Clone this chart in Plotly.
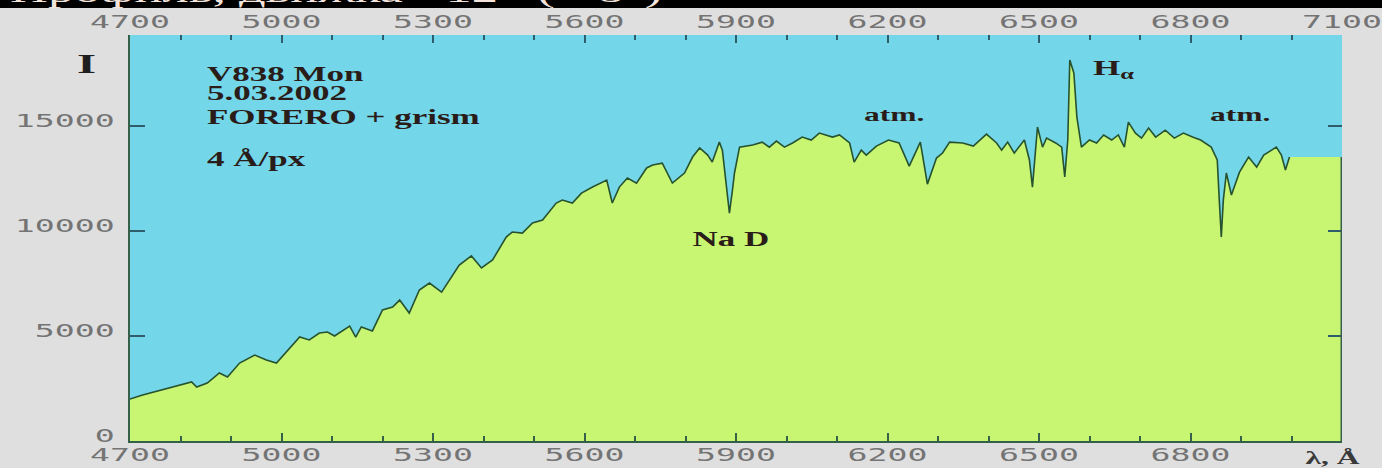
import plotly.graph_objects as go

# ---------------------------------------------------------------------------
# V838 Mon spectrum, 5.03.2002 (FORERO + grism, 4 A/px)
# ---------------------------------------------------------------------------
wavelength = [
    4700, 4725, 4822, 4832, 4853, 4877, 4893, 4917, 4947, 4970,
    4990, 5010, 5036, 5055, 5075, 5091, 5105, 5135, 5147, 5158,
    5180, 5200, 5220, 5234, 5253, 5273, 5293, 5317, 5352, 5376,
    5396, 5418, 5445, 5457, 5477, 5497, 5517, 5544, 5556, 5576,
    5594, 5616, 5644, 5655, 5669, 5685, 5703, 5723, 5735, 5754,
    5774, 5798, 5814, 5828, 5844, 5853, 5867, 5873, 5881, 5887,
    5893, 5897, 5907, 5933, 5952, 5966, 5980, 5996, 6012, 6031,
    6049, 6065, 6091, 6105, 6125, 6134, 6148, 6158, 6178, 6202,
    6223, 6243, 6265, 6279, 6297, 6309, 6323, 6349, 6370, 6396,
    6416, 6426, 6438, 6451, 6471, 6481, 6487, 6493, 6497, 6507,
    6515, 6533, 6545, 6551, 6557, 6561, 6569, 6575, 6584, 6600,
    6614, 6628, 6644, 6657, 6669, 6677, 6691, 6703, 6717, 6731,
    6750, 6768, 6786, 6804, 6820, 6841, 6853, 6857, 6861, 6865,
    6871, 6881, 6897, 6915, 6931, 6945, 6970, 6980, 6988, 6996,
]
flux = [
    2000, 2190, 2810, 2570, 2760, 3240, 3050, 3710, 4090, 3860,
    3710, 4240, 4950, 4810, 5140, 5190, 5000, 5470, 4950, 5430,
    5240, 6240, 6380, 6710, 6090, 7190, 7520, 7090, 8380, 8810,
    8240, 8620, 9710, 9950, 9900, 10380, 10520, 11330, 11470, 11330,
    11800, 12090, 12420, 11330, 12090, 12520, 12280, 13000, 13140, 13230,
    12280, 12760, 13520, 13950, 13610, 13280, 14230, 13850, 12190, 10850,
    11950, 12760, 13990, 14090, 14230, 13990, 14280, 13990, 14190, 14470,
    14330, 14660, 14470, 14570, 14190, 13280, 13850, 13610, 14040, 14330,
    14190, 13090, 14230, 12230, 13470, 13710, 14230, 14190, 14040, 14610,
    14190, 13850, 14230, 13710, 14330, 13380, 12090, 13850, 14950, 13990,
    14420, 14190, 13990, 12570, 14330, 18140, 17520, 15420, 13990, 14330,
    14190, 14570, 14330, 14570, 13990, 15180, 14660, 14420, 14900, 14470,
    14800, 14420, 14660, 14470, 14330, 13990, 13380, 11470, 9710, 11470,
    12760, 11710, 12800, 13520, 13040, 13610, 13990, 13610, 12900, 13520,
]
assert len(wavelength) == len(flux)

LAMBDA_MIN, LAMBDA_MAX = 4700, 7100
FLUX_MAX = 19330

x_tick_vals = [4700, 5000, 5300, 5600, 5900, 6200, 6500, 6800, 7100]
x_tick_text = ["4700", "5000", "5300", "5600", "5900", "6200", "6500", "6800", "7100"]
x_minor_vals = list(range(LAMBDA_MIN, LAMBDA_MAX, 100))
y_tick_vals = [0, 5000, 10000, 15000]
y_tick_text = ["0", "5000", "10000", "15000"]

# ---------------------------------------------------------------------------
PAPER = "#dfdfdf"
SKY = "#73d6e9"
FILL = "#c8f672"
LINE = "#27522f"
AXIS = "#35604a"
TOP_TICK = "#2f5d6c"
LABEL_GREY = "#747474"
INK = "#2a1c18"

tick_font = dict(family="DejaVu Sans Mono", size=17, color=LABEL_GREY)
note_font = dict(family="Liberation Serif", size=20, color=INK, weight="bold")

fig = go.Figure()

# filled area under the spectrum, continued flat to the end of the axis
fig.add_trace(go.Scatter(
    x=wavelength + [LAMBDA_MAX], y=flux + [flux[-1]],
    mode="lines", line=dict(width=0), fill="tozeroy", fillcolor=FILL,
    hoverinfo="skip", xaxis="x", yaxis="y",
))
# spectrum outline
fig.add_trace(go.Scatter(
    x=wavelength, y=flux, mode="lines",
    line=dict(color=LINE, width=1.6),
    xaxis="x2", yaxis="y2",
))

fig.add_shape(type="line", xref="x", yref="y",
              x0=LAMBDA_MAX, x1=LAMBDA_MAX, y0=0, y1=flux[-1],
              line=dict(color=AXIS, width=3))

# black strip along the top edge
fig.add_shape(type="rect", xref="paper", yref="paper",
              x0=-0.2, x1=1.2, y0=1.0665, y1=1.2,
              fillcolor="black", line=dict(width=0), layer="above")

minor_common = dict(tickmode="array", tickvals=x_minor_vals, ticks="inside",
                    ticklen=5, tickwidth=2)

fig.update_layout(
    width=1382, height=468,
    margin=dict(l=130, r=40, t=35, b=27, autoexpand=False),
    paper_bgcolor=PAPER, plot_bgcolor=SKY,
    showlegend=False,
    xaxis=dict(
        range=[LAMBDA_MIN, LAMBDA_MAX], autorange=False, automargin=False,
        tickmode="array", tickvals=x_tick_vals[:-1], ticktext=x_tick_text[:-1],
        ticks="inside", ticklen=8, tickwidth=2, tickcolor=AXIS,
        minor=dict(minor_common, tickcolor=AXIS),
        showline=True, linecolor=AXIS, linewidth=2,
        showgrid=False, zeroline=False, tickfont=tick_font,
        ticklabelstandoff=-2,
    ),
    xaxis2=dict(
        overlaying="x", side="top", anchor="y2", automargin=False,
        range=[LAMBDA_MIN, LAMBDA_MAX], autorange=False,
        tickmode="array", tickvals=x_tick_vals, ticktext=x_tick_text,
        ticks="inside", ticklen=8, tickwidth=2, tickcolor=TOP_TICK,
        minor=dict(minor_common, tickcolor=TOP_TICK),
        showline=False, showgrid=False, zeroline=False, tickfont=tick_font,
        ticklabelstandoff=3,
    ),
    yaxis=dict(
        range=[0, FLUX_MAX], autorange=False, automargin=False,
        tickmode="array", tickvals=y_tick_vals, ticktext=y_tick_text,
        ticks="inside", ticklen=15, tickwidth=2, tickcolor=TOP_TICK,
        showline=True, linecolor=AXIS, linewidth=2,
        showgrid=False, zeroline=False, tickfont=tick_font,
        ticklabelstandoff=10, ticklabelshift=-5,
    ),
    yaxis2=dict(
        overlaying="y", side="right", anchor="x2", automargin=False,
        range=[0, FLUX_MAX], autorange=False,
        tickmode="array", tickvals=y_tick_vals[1:],
        ticks="inside", ticklen=14, tickwidth=2, tickcolor=TOP_TICK,
        showticklabels=False, showline=False, showgrid=False, zeroline=False,
    ),
)

# observation notes
notes = [
    ("V838 Mon", 17490),
    ("5.03.2002", 16590),
    ("FORERO + grism", 15400),
    ("4 Å/px", 13400),
]
for text, level in notes:
    fig.add_annotation(x=4848, y=level, xref="x", yref="y", text=text,
                       showarrow=False, xanchor="left", yanchor="middle",
                       align="left", font=note_font)

# line identifications
fig.add_annotation(x=5890, y=9620, xref="x", yref="y", text="Na D",
                   showarrow=False, xanchor="center", yanchor="middle",
                   font=note_font)
fig.add_annotation(x=6214, y=15520, xref="x", yref="y", text="atm.",
                   showarrow=False, xanchor="center", yanchor="middle",
                   font=dict(note_font, size=18))
fig.add_annotation(x=6899, y=15520, xref="x", yref="y", text="atm.",
                   showarrow=False, xanchor="center", yanchor="middle",
                   font=dict(note_font, size=18))
fig.add_annotation(x=6602, y=17700, xref="x", yref="y", text="H<sub>α</sub>",
                   showarrow=False, xanchor="left", yanchor="middle",
                   align="left", font=note_font)

# axis captions
fig.add_annotation(x=-0.0363, y=0.931, xref="paper", yref="paper", text="I",
                   showarrow=False, xanchor="center", yanchor="middle",
                   font=dict(family="Liberation Serif", size=28, color="#1e1e1e",
                             weight="bold"))
fig.add_annotation(x=0.9925, y=-0.042, xref="paper", yref="paper", text="λ, Å",
                   showarrow=False, xanchor="center", yanchor="middle",
                   font=dict(family="Liberation Serif", size=18, color="#3a3a3a",
                             weight="bold"))

# heading in the black strip
fig.add_annotation(x=-0.1007, y=1.0591, xref="paper", yref="paper",
                   text="Профиль, движка +12   ( +8°)",
                   showarrow=False, xanchor="left", yanchor="bottom",
                   align="left",
                   font=dict(family="Liberation Serif", size=30, color="#f4e4dc"))

# widen the lettering horizontally, keeping each label's anchor point fixed
stretch_js = """
var gd = document.getElementById('{plot_id}');
function widen(sel, s) {
  gd.querySelectorAll(sel).forEach(function (t) {
    var b = t.getBBox();
    var a = t.getAttribute('text-anchor') || 'start';
    var px = a === 'middle' ? b.x + b.width / 2 : (a === 'end' ? b.x + b.width : b.x);
    var tr = t.getAttribute('transform') || '';
    t.setAttribute('transform', tr + ' translate(' + px + ',0) scale(' + s + ',1) translate(' + (-px) + ',0)');
  });
}
widen('g.xtick > text, g.x2tick > text, g.ytick > text', 1.95);
widen('text.annotation-text', 1.75);
"""

fig.write_html("out.html", post_script=stretch_js,
               config={"displayModeBar": False, "responsive": False})
